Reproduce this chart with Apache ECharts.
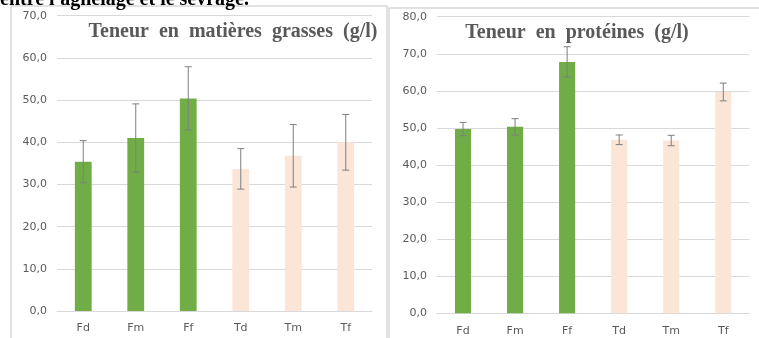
<!DOCTYPE html>
<html><head><meta charset="utf-8">
<script src="https://cdn.jsdelivr.net/npm/echarts@6/dist/echarts.min.js"></script>
<style>html,body{margin:0;padding:0;background:#fff}#c{width:759px;height:338px}</style>
</head><body><div id="c"></div>
<script>
const categories = ['Fd','Fm','Ff','Td','Tm','Tf'];
const fatMeans = [35.4, 41.0, 50.4, 33.7, 36.8, 40.0];
const fatErr = [5.0, 8.1, 7.5, 4.8, 7.4, 6.6];
const proteinMeans = [49.7, 50.3, 67.8, 46.8, 46.6, 59.7];
const proteinErr = [1.8, 2.2, 4.1, 1.3, 1.4, 2.4];
const fatTicks = {min: 0, max: 70, interval: 10};
const proteinTicks = {min: 0, max: 80, interval: 10};
const titleFat = 'Teneur en matières grasses (g/l)';
const titleProtein = 'Teneur en protéines (g/l)';
const caption = "entre l'agnelage et le sevrage.";

const GREEN = '#70AD47', PEACH = '#FBE5D6';
const labelFont = 'DejaVu Sans';
const wide = s => s.split(' ').join('  ');
function barData(vals){
  return vals.map((v,i)=>({value:v, itemStyle:{color: categories[i][0]==='F'?GREEN:PEACH}}));
}
function errData(means, errs){
  return means.map((m,i)=>[i, m-errs[i], m+errs[i]]);
}
function errRender(params, api){
  const x = api.value(0), lo = api.value(1), hi = api.value(2);
  const pLo = api.coord([x, lo]), pHi = api.coord([x, hi]);
  const half = 3.5;
  const st = {stroke:'#7f7f7f', lineWidth:1};
  return {type:'group', children:[
    {type:'line', shape:{x1:pLo[0],y1:pLo[1],x2:pHi[0],y2:pHi[1]}, style:st},
    {type:'line', shape:{x1:pLo[0]-half,y1:pLo[1],x2:pLo[0]+half,y2:pLo[1]}, style:st},
    {type:'line', shape:{x1:pHi[0]-half,y1:pHi[1],x2:pHi[0]+half,y2:pHi[1]}, style:st}
  ]};
}
const fmt = v => v.toFixed(1).replace('.', ',');
function yAx(idx, t){
  return {type:'value', gridIndex:idx, min:t.min, max:t.max, interval:t.interval,
    axisLine:{show:false}, axisTick:{show:false},
    splitLine:{lineStyle:{color:'#d9d9d9', width:1}},
    axisLabel:{formatter:fmt, color:'#595959', fontFamily:labelFont, fontSize:11, margin:10}};
}
function xAx(idx){
  return {type:'category', gridIndex:idx, data:categories,
    axisLine:{lineStyle:{color:'#d9d9d9'}}, axisTick:{show:false},
    axisLabel:{color:'#595959', fontFamily:labelFont, fontSize:11, margin:12}};
}
const chart = echarts.init(document.getElementById('c'), null, {renderer:'canvas'});
chart.setOption({
  animation:false,
  grid:[
    {left:57, right:387, top:15.7, bottom:26.9},
    {left:437, right:9.7, top:16.7, bottom:24.7}
  ],
  xAxis:[xAx(0), xAx(1)],
  yAxis:[yAx(0, fatTicks), yAx(1, proteinTicks)],
  title:[
    {text:wide(titleFat), left:228, top:17, textAlign:'center',
     textStyle:{fontFamily:'Liberation Serif', fontWeight:'bold', fontSize:20, color:'#595959'}},
    {text:wide(titleProtein), left:572, top:18, textAlign:'center',
     textStyle:{fontFamily:'Liberation Serif', fontWeight:'bold', fontSize:20, color:'#595959'}}
  ],
  graphic:[
    {type:'rect', shape:{x:11, y:6, width:376, height:345}, style:{fill:'none', stroke:'#d9d9d9', lineWidth:1.5}, z:0},
    {type:'rect', shape:{x:389, y:8, width:376, height:345}, style:{fill:'none', stroke:'#d9d9d9', lineWidth:1.5}, z:0},
    {type:'text', x:0, y:10, style:{text:caption, fill:'#000', font:'bold 20px "Liberation Serif"', textVerticalAlign:'bottom'}, z:10}
  ],
  series:[
    {type:'bar', xAxisIndex:0, yAxisIndex:0, data:barData(fatMeans), barWidth:'32%'},
    {type:'custom', xAxisIndex:0, yAxisIndex:0, data:errData(fatMeans, fatErr), renderItem:errRender, z:5},
    {type:'bar', xAxisIndex:1, yAxisIndex:1, data:barData(proteinMeans), barWidth:'31%'},
    {type:'custom', xAxisIndex:1, yAxisIndex:1, data:errData(proteinMeans, proteinErr), renderItem:errRender, z:5}
  ]
});
</script></body></html>
